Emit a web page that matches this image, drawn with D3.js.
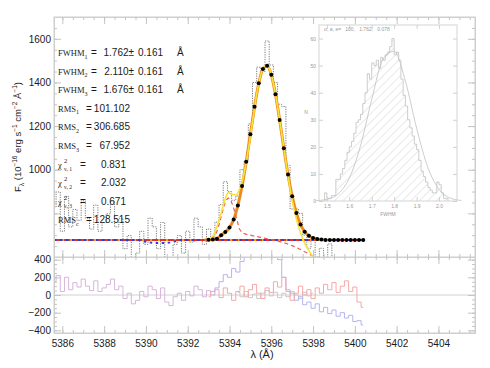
<!DOCTYPE html>
<html><head><meta charset="utf-8">
<script src="https://cdn.jsdelivr.net/npm/d3@7"></script>
<style>body{margin:0;background:#fff}</style>
</head><body><svg id="c" width="490" height="368"></svg>
<script>
// ---------------- data ----------------
const lambda = [5385.6,5385.8,5386.0,5386.2,5386.4,5386.6,5386.8,5387.0,5387.2,5387.4,
5387.6,5387.8,5388.0,5388.2,5388.4,5388.6,5388.8,5389.0,5389.2,5389.4,
5389.6,5389.8,5390.0,5390.2,5390.4,5390.6,5390.8,5391.0,5391.2,5391.4,
5391.6,5391.8,5392.0,5392.2,5392.4,5392.6,5392.8,5393.0,5393.2,5393.4,
5393.6,5393.8,5394.0,5394.2,5394.4,5394.6,5394.8,5395.0,5395.2,5395.4,
5395.6,5395.8,5396.0,5396.2,5396.4,5396.6,5396.8,5397.0,5397.2,5397.4,
5397.6,5397.8,5398.0,5398.2,5398.4,5398.6,5398.8,5399.0,5399.2,5399.4,
5399.6,5399.8,5400.0,5400.2,5400.4];
const fluxObs = [828,898,718,878,738,818,768,858,778,728,
838,718,758,798,858,738,778,638,698,578,
618,718,658,778,738,638,758,598,558,658,
698,618,718,668,778,738,658,728,680,760,
840,945,900,860,880,1000,1040,1210,1400,1470,
1450,1590,1480,1400,1300,1290,1020,820,820,800,
700,640,680,600,640,580,660,590,560,560,
540,580,550,520,500];
const fitTotal = [678,678,678,678,678,678,678,678,678,678,
678,678,678,678,678,678,678,678,678,678,
678,678,678,678,678,678,678,678,678,678,
678,678,678,678,678,678,678,679,680,684,
700,715,735,772,836,925,1037,1163,1289,1396,
1462,1476,1435,1346,1228,1099,978,878,802,749,
716,697,687,682,680,678,678,678,678,678,
678,678,678,678,678];
const fit2Lambda = [5393.0,5393.2,5393.4,5393.6,5393.8,5393.95,5394.1,5394.3,5394.5,5394.7,5394.9,5395.1,5395.3,5395.5,5395.7,5395.9,5396.1,5396.3,5396.5,5396.7,5396.9,5397.1,5397.3,5397.5,5397.7,5397.9,5398.0];
const fit2Flux   = [679,695,740,800,868,895,888,885,915,985,1090,1220,1345,1435,1478,1465,1395,1290,1165,1035,915,815,740,685,645,615,598];
const compLambda = [5392.8,5393.0,5393.2,5393.4,5393.6,5393.8,5393.95,5394.1,5394.3,5394.5,5394.7,5395.0,5395.5,5396.0,5396.5,5397.0,5397.4,5397.8,5398.1];
const compFlux   = [678,680,690,718,785,850,870,850,790,725,708,700,690,680,668,652,634,614,598];
const contLambda = [5385.6,5389.6,5389.9,5390.2,5390.6,5391.0,5391.4,5391.7,5400.4];
const contFlux   = [678,678,672,666,664,665,672,678,678];
const contRedLambda = [5385.6,5400.4];
const contRedFlux = [678,678];
// residuals
const resid1 = [150,220,40,200,60,140,90,180,100,50,160,40,80,120,180,60,100,-40,20,-100,
-60,40,-20,100,60,-40,80,-80,-120,-20,20,-60,40,-10,100,60,-20,50,0];          // lambda[0..38]
const resid3 = [-20,40,60,-30,80,20,-60,40,100,-20,60,120,20,-40,80,30,150,90,200,40,
-60,20,100,0,60,-40,80,20,120,60,140,30,100,160,40,90,-80,-140];                // lambda[37..74]
const resid2 = [0,80,150,230,200,300,260,380,500,600,650,600,700,620,560,480,400,200,60,20,
-60,-20,-110,-80,-150,-100,-190,-140,-210,-170,-240,-200,-260,-230,-300,-290,-340]; // lambda[38..74]
const residC = [30,-20,40,-30,10,-40,20,50,-10,30,-30,20,-20,40,0,-40,30,-10,20]; // lambda[44..62]
// inset histogram
const binStart = [1.49,1.50,1.51,1.52,1.53,1.54,1.55,1.56,1.57,1.58,1.59,1.60,1.61,1.62,1.63,1.64,1.65,1.66,1.67,1.68,
1.69,1.70,1.71,1.72,1.73,1.74,1.75,1.76,1.77,1.78,1.79,1.80,1.81,1.82,1.83,1.84,1.85,1.86,1.87,1.88,
1.89,1.90,1.91,1.92,1.93,1.94,1.95,1.96,1.97,1.98,1.99,2.00,2.01,2.02,2.03];
const binCount = [3,1,1,2,2,8,8,10,12,15,18,20,22,25,29,30,32,36,40,47,
45,51,50,52,49,53,52,54,55,57,60,54,55,52,45,39,35,30,27,24,
21,19,15,11,9,7,5,4,3,3,7,6,3,1,1];
const gaussX = [1.45,1.50,1.55,1.60,1.65,1.70,1.75,1.80,1.85,1.90,1.95,2.00,2.05,2.10];
const gaussY = [0.1,0.6,2.6,8.4,20.4,37.5,52.3,55.3,44.3,26.9,12.4,4.3,1.1,0.2];
const xTicks = [5386,5388,5390,5392,5394,5396,5398,5400,5402,5404];
const yTopTicks = [1000,1200,1400,1600];
const yBotTicks = [-400,-200,0,200,400];
const insetXTicks = [1.5,1.6,1.7,1.8,1.9,2.0];
const insetYTicks = [0,10,20,30,40,50,60];
const fwhmVals = ["1.762","2.110","1.676"];
const fwhmErr = ["0.161","0.161","0.161"];
const rmsVals = ["101.102","306.685","67.952"];
const chiVals = ["0.831","2.032","0.671"];
const rmsC = "128.515";
const insetTitle = "σ, a, e=   100,   1.762,   0.078";

// ---------------- layout ----------------
const svg = d3.select('#c');
const L = 54, R = 475, T = 17, M = 257, B = 333;
const x = d3.scaleLinear().domain([5385.6, 5405.75]).range([L, R]);
const yT = d3.scaleLinear().domain([600, 1700]).range([M, T]);
const yB = d3.scaleLinear().domain([-430, 430]).range([B, M]);
const FONT = '"Liberation Sans", Arial, sans-serif';
const SERIF = '"Liberation Serif", "Times New Roman", serif';
const frameCol = '#cfcfcf';

const defs = svg.append('defs');
defs.append('clipPath').attr('id','cT').append('rect').attr('x',L).attr('y',T).attr('width',R-L).attr('height',M-T);
defs.append('clipPath').attr('id','cB').append('rect').attr('x',L).attr('y',M).attr('width',R-L).attr('height',B-M);
const pat = defs.append('pattern').attr('id','hatch').attr('patternUnits','userSpaceOnUse')
  .attr('width',6).attr('height',6).attr('patternTransform','rotate(45)');
pat.append('line').attr('x1',0).attr('y1',0).attr('x2',0).attr('y2',6).attr('stroke','#c8c8c8').attr('stroke-width',0.8);

function styleAxis(g, labels){
  g.select('.domain').attr('stroke', frameCol);
  g.selectAll('.tick line').attr('stroke','#c4c4c4');
  g.selectAll('.tick text').attr('fill','#1a1a1a').style('font','10px '+FONT);
  if(!labels) g.selectAll('.tick text').remove();
}
const minorX = d3.range(5386, 5406, 0.5);
function xAxes(yPos, dirUp, labels){
  const ax = dirUp ? d3.axisBottom(x) : d3.axisTop(x);
  const g1 = svg.append('g').attr('transform',`translate(0,${yPos})`)
    .call(ax.tickValues(xTicks).tickSize(-7).tickPadding(7).tickFormat(d3.format('d')));
  styleAxis(g1, labels);
  const ax2 = dirUp ? d3.axisBottom(x) : d3.axisTop(x);
  const g2 = svg.append('g').attr('transform',`translate(0,${yPos})`)
    .call(ax2.tickValues(minorX).tickSize(-3).tickFormat(''));
  styleAxis(g2, false);
}
function yAxes(scale, major, minor, labelFn){
  const g1 = svg.append('g').attr('transform',`translate(${L},0)`)
    .call(d3.axisLeft(scale).tickValues(major).tickSize(-7).tickPadding(3).tickFormat(labelFn));
  styleAxis(g1, true);
  const g2 = svg.append('g').attr('transform',`translate(${L},0)`)
    .call(d3.axisLeft(scale).tickValues(minor).tickSize(-3).tickFormat(''));
  styleAxis(g2, false);
  const g3 = svg.append('g').attr('transform',`translate(${R},0)`)
    .call(d3.axisRight(scale).tickValues(major).tickSize(-7).tickFormat(''));
  styleAxis(g3, false);
  const g4 = svg.append('g').attr('transform',`translate(${R},0)`)
    .call(d3.axisRight(scale).tickValues(minor).tickSize(-3).tickFormat(''));
  styleAxis(g4, false);
}

// ---------------- upper panel ----------------
const upper = svg.append('g').attr('clip-path','url(#cT)');
const lineT = d3.line().x(d=>x(d[0])).y(d=>yT(d[1]));
const obs = lambda.map((l,i)=>[l, fluxObs[i]]);
upper.append('path').datum(obs).attr('d', lineT.curve(d3.curveStep))
  .attr('fill','none').attr('stroke','#7a7a7a').attr('stroke-width',1).attr('stroke-dasharray','1.2,1.2');

const lineC = d3.line().x(d=>x(d[0])).y(d=>yT(d[1]));
upper.append('path').datum(contRedLambda.map((l,i)=>[l,contRedFlux[i]])).attr('d',lineC)
  .attr('fill','none').attr('stroke','#e8301c').attr('stroke-width',2.2);
upper.append('path').datum(contRedLambda.map((l,i)=>[l,contRedFlux[i]])).attr('d',lineC)
  .attr('fill','none').attr('stroke','#f5a020').attr('stroke-width',2.2).attr('stroke-dasharray','2,6');
upper.append('path').datum(contLambda.map((l,i)=>[l,contFlux[i]])).attr('d',lineC.curve(d3.curveMonotoneX))
  .attr('fill','none').attr('stroke','#2a3ce8').attr('stroke-width',2).attr('stroke-dasharray','2.5,3.5');

const fitPts = lambda.map((l,i)=>[l, fitTotal[i]]).filter(d=>d[0]>=5392.8 && d[0]<=5398.6);
upper.append('path').datum(fitPts).attr('d', d3.line().x(d=>x(d[0])).y(d=>yT(d[1])).curve(d3.curveMonotoneX))
  .attr('fill','none').attr('stroke','#f08a1c').attr('stroke-width',3);
upper.append('path').datum(compLambda.map((l,i)=>[l,compFlux[i]]))
  .attr('d', d3.line().x(d=>x(d[0])).y(d=>yT(d[1])).curve(d3.curveMonotoneX))
  .attr('fill','none').attr('stroke','#f25a5a').attr('stroke-width',1.2).attr('stroke-dasharray','4,3');
upper.append('path').datum(fit2Lambda.map((l,i)=>[l,fit2Flux[i]]))
  .attr('d', d3.line().x(d=>x(d[0])).y(d=>yT(d[1])).curve(d3.curveMonotoneX))
  .attr('fill','none').attr('stroke','#f5e43a').attr('stroke-width',1.6);
upper.selectAll('circle.fit').data(lambda.map((l,i)=>[l,fitTotal[i]]).filter(d=>d[0]>=5393.0))
  .enter().append('circle').attr('class','fit')
  .attr('cx',d=>x(d[0])).attr('cy',d=>yT(d[1])).attr('r',2).attr('fill','#000');

// ---------------- lower panel ----------------
const lower = svg.append('g').attr('clip-path','url(#cB)');
lower.append('line').attr('x1',L).attr('x2',R).attr('y1',yB(0)).attr('y2',yB(0)).attr('stroke','#d0d0d0');
const lineB = d3.line().x(d=>x(d[0])).y(d=>yB(d[1])).curve(d3.curveStep);
function resid(arr, start, col){
  lower.append('path').datum(arr.map((v,i)=>[lambda[start+i], v])).attr('d', lineB)
    .attr('fill','none').attr('stroke',col).attr('stroke-width',1);
}
resid(residC, 44, '#c9c9c9');
resid(resid1, 0, '#d6b6da');
resid(resid2, 38, '#b4b4f2');
resid(resid3, 37, '#f5a8a8');

// ---------------- axes / frames ----------------
svg.append('rect').attr('x',L).attr('y',T).attr('width',R-L).attr('height',B-T).attr('fill','none').attr('stroke',frameCol);
svg.append('line').attr('x1',L).attr('x2',R).attr('y1',M).attr('y2',M).attr('stroke',frameCol);
xAxes(B, true, true);
xAxes(T, false, false);
xAxes(M, true, false);
xAxes(M, false, false);
yAxes(yT, [600,800,1000,1200,1400,1600], d3.range(650,1700,50), d=> yTopTicks.includes(d)? d : '');
yAxes(yB, yBotTicks, d3.range(-400,401,50), d=> d3.format('d')(d));

// axis titles
const yl = svg.append('text').attr('transform','translate(21,137) rotate(-90)').attr('text-anchor','middle')
  .style('font','9.5px '+FONT).attr('fill','#222');
yl.append('tspan').text('F');
yl.append('tspan').attr('font-size','6.5px').attr('dy',2.5).text('λ');
yl.append('tspan').attr('dy',-2.5).text(' (10');
yl.append('tspan').attr('font-size','6.5px').attr('dy',-4).text('−16');
yl.append('tspan').attr('dy',4).text(' erg s');
yl.append('tspan').attr('font-size','6.5px').attr('dy',-4).text('−1');
yl.append('tspan').attr('dy',4).text(' cm');
yl.append('tspan').attr('font-size','6.5px').attr('dy',-4).text('−2');
yl.append('tspan').attr('dy',4).text(' Å');
yl.append('tspan').attr('font-size','6.5px').attr('dy',-4).text('−1');
yl.append('tspan').attr('dy',4).text(')');
svg.append('text').attr('x',262).attr('y',358).attr('text-anchor','middle').style('font','11px '+FONT)
  .attr('fill','#222').text('λ (Å)');

// ---------------- annotations ----------------
const ann = svg.append('g').attr('fill','#1a1a1a');
const y0 = 56, dy = 18.6;
function label(g, yy, main, sub, sup){
  const t = g.append('text').attr('x',58).attr('y',yy).style('font','8.5px '+SERIF);
  t.append('tspan').text(main);
  if(sup){
    t.append('tspan').attr('x',64).attr('dy',-5).attr('font-size','6.5px').text(sup);
    t.append('tspan').attr('dy',8).attr('x',64).attr('font-size','5.5px').text(sub);
  } else {
    t.append('tspan').attr('dy',2.5).attr('font-size','6px').text(sub);
  }
}
fwhmVals.forEach((v,i)=>{
  const yy = y0 + i*dy;
  label(ann, yy, 'FWHM', String(i+1));
  ann.append('text').attr('x',91).attr('y',yy).style('font','10px '+FONT).text('=');
  ann.append('text').attr('x',134).attr('y',yy).attr('text-anchor','end').style('font','10px '+FONT).text(v+'±');
  ann.append('text').attr('x',138).attr('y',yy).style('font','10px '+FONT).text(fwhmErr[i]);
  ann.append('text').attr('x',177).attr('y',yy).style('font','10px '+FONT).text('Å');
});
rmsVals.forEach((v,i)=>{
  const yy = y0 + (3+i)*dy;
  label(ann, yy, 'RMS', String(i+1));
  ann.append('text').attr('x',86).attr('y',yy).style('font','10px '+FONT).text('=');
  ann.append('text').attr('x',130).attr('y',yy).attr('text-anchor','end').style('font','10px '+FONT).text(v);
});
chiVals.forEach((v,i)=>{
  const yy = y0 + (6+i)*dy;
  label(ann, yy, 'χ', 'ν, '+(i+1), '2');
  ann.append('text').attr('x',80).attr('y',yy).style('font','10px '+FONT).text('=');
  ann.append('text').attr('x',126).attr('y',yy).attr('text-anchor','end').style('font','10px '+FONT).text(v);
});
{
  const yy = y0 + 9*dy;
  label(ann, yy, 'RMS', 'c');
  ann.append('text').attr('x',86).attr('y',yy).style('font','10px '+FONT).text('=');
  ann.append('text').attr('x',130).attr('y',yy).attr('text-anchor','end').style('font','10px '+FONT).text(rmsC);
}

// ---------------- inset ----------------
const iL = 319, iR = 457, iT = 25, iB = 201;
const xi = d3.scaleLinear().domain([1.465, 2.08]).range([iL, iR]);
const yi = d3.scaleLinear().domain([0, 65]).range([iB, iT]);
const ins = svg.append('g');
ins.append('rect').attr('x',iL).attr('y',iT).attr('width',iR-iL).attr('height',iB-iT).attr('fill','#fff');
const hist = [];
binStart.forEach((b,i)=>{ hist.push([b, binCount[i]]); hist.push([b+0.01, binCount[i]]); });
const hArea = [[binStart[0],0], ...hist, [binStart[binStart.length-1]+0.01,0]];
ins.append('path').datum(hArea).attr('d', d3.area().x(d=>xi(d[0])).y0(yi(0)).y1(d=>yi(d[1])))
  .attr('fill','url(#hatch)');
ins.append('path').datum(hArea).attr('d', d3.line().x(d=>xi(d[0])).y(d=>yi(d[1])))
  .attr('fill','none').attr('stroke','#c0c0c0').attr('stroke-width',0.8);
ins.append('path').datum(gaussX.map((g,i)=>[g,gaussY[i]])).attr('d', d3.line().x(d=>xi(d[0])).y(d=>yi(d[1])).curve(d3.curveMonotoneX))
  .attr('fill','none').attr('stroke','#c0c0c0').attr('stroke-width',0.8);
ins.append('rect').attr('x',iL).attr('y',iT).attr('width',iR-iL).attr('height',iB-iT).attr('fill','none').attr('stroke','#d4d4d4');
function insAx(g){ g.select('.domain').remove(); g.selectAll('.tick line').attr('stroke','#d0d0d0');
  g.selectAll('.tick text').attr('fill','#9a9a9a').style('font','5px '+FONT); }
insAx(ins.append('g').attr('transform',`translate(0,${iB})`).call(d3.axisBottom(xi).tickValues(insetXTicks).tickSize(-4).tickPadding(3).tickFormat(d3.format('.1f'))));
insAx(ins.append('g').attr('transform',`translate(0,${iT})`).call(d3.axisTop(xi).tickValues(insetXTicks).tickSize(-4).tickFormat('')));
insAx(ins.append('g').attr('transform',`translate(${iL},0)`).call(d3.axisLeft(yi).tickValues(insetYTicks).tickSize(-4).tickPadding(3).tickFormat(d3.format('d'))));
insAx(ins.append('g').attr('transform',`translate(${iR},0)`).call(d3.axisRight(yi).tickValues(insetYTicks).tickSize(-4).tickFormat('')));
ins.append('text').attr('x',388).attr('y',215.5).attr('text-anchor','middle').style('font','5px '+FONT).attr('fill','#9a9a9a').text('FWHM');
ins.append('text').attr('x',306).attr('y',114).attr('text-anchor','middle').style('font','5px '+FONT).attr('fill','#9a9a9a').text('N');
ins.append('text').attr('x',324).attr('y',31).style('font','5px '+FONT).attr('fill','#9a9a9a').attr('xml:space','preserve').text(insetTitle);
</script></body></html>
